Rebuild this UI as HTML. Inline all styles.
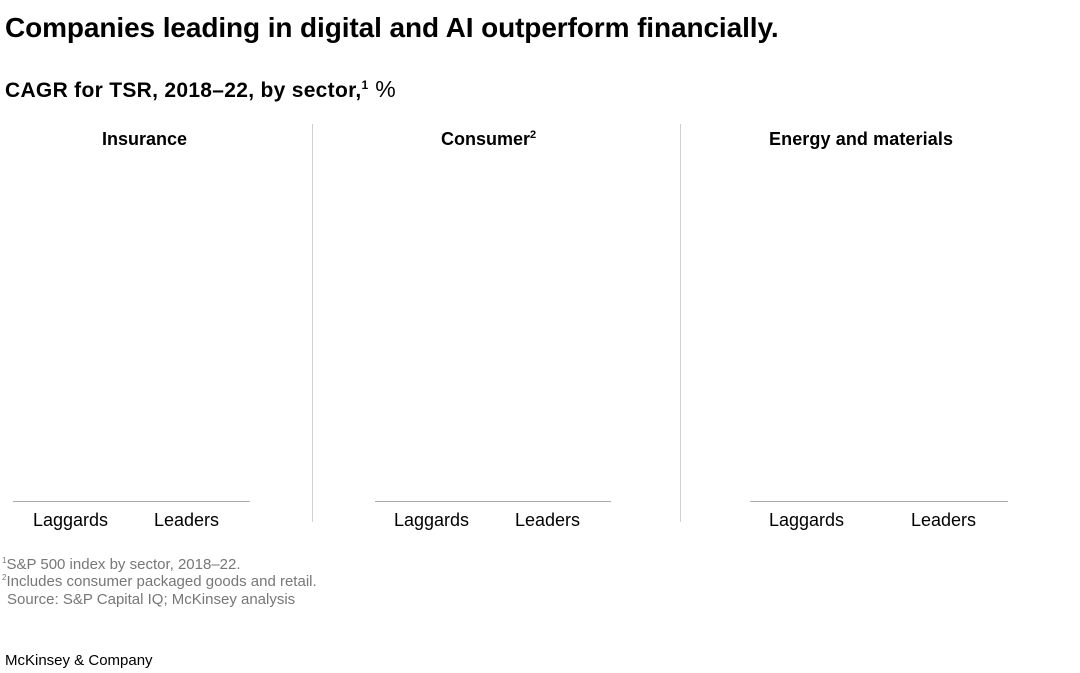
<!DOCTYPE html>
<html><head><meta charset="utf-8"><style>
body{margin:0;width:1080px;height:673px;background:#fff;font-family:"Liberation Sans",Arial,sans-serif;position:relative;overflow:hidden;color:#000}
.a{position:absolute;white-space:nowrap}
.h{font-weight:bold}
.g{color:#777;font-size:15px}
.vl{position:absolute;width:1px;background:#d0d0d0;top:124px;height:398px}
.bl{position:absolute;height:1px;background:#aaa;top:501px}
.lab{font-size:18px}
</style></head><body>
<div class="a h" style="left:5px;top:12px;font-size:28px;letter-spacing:-0.1px">Companies leading in digital and AI outperform financially.</div>
<div class="a h" style="left:5px;top:76px;font-size:21px;letter-spacing:0.3px">CAGR for TSR, 2018–22, by sector,<sup style="font-size:12px">1</sup><span style="font-weight:normal;font-size:23px"> %</span></div>
<div class="a h" style="left:102px;top:129px;font-size:18px">Insurance</div>
<div class="a h" style="left:441px;top:129px;font-size:18px">Consumer<sup style="font-size:11px">2</sup></div>
<div class="a h" style="left:769px;top:129px;font-size:18px;letter-spacing:0.1px">Energy and materials</div>
<div class="vl" style="left:312px"></div>
<div class="vl" style="left:680px"></div>
<div class="bl" style="left:13px;width:237px"></div>
<div class="bl" style="left:375px;width:236px"></div>
<div class="bl" style="left:750px;width:258px"></div>
<div class="a lab" style="left:33px;top:510px">Laggards</div>
<div class="a lab" style="left:154px;top:510px">Leaders</div>
<div class="a lab" style="left:394px;top:510px">Laggards</div>
<div class="a lab" style="left:515px;top:510px">Leaders</div>
<div class="a lab" style="left:769px;top:510px">Laggards</div>
<div class="a lab" style="left:911px;top:510px">Leaders</div>
<div class="a g" style="left:2px;top:556px"><sup style="font-size:8px">1</sup>S&amp;P 500 index by sector, 2018–22.</div>
<div class="a g" style="left:2px;top:573px"><sup style="font-size:8px">2</sup>Includes consumer packaged goods and retail.</div>
<div class="a g" style="left:7px;top:591px">Source: S&amp;P Capital IQ; McKinsey analysis</div>
<div class="a" style="left:5px;top:652px;font-size:15px">McKinsey &amp; Company</div>
</body></html>
